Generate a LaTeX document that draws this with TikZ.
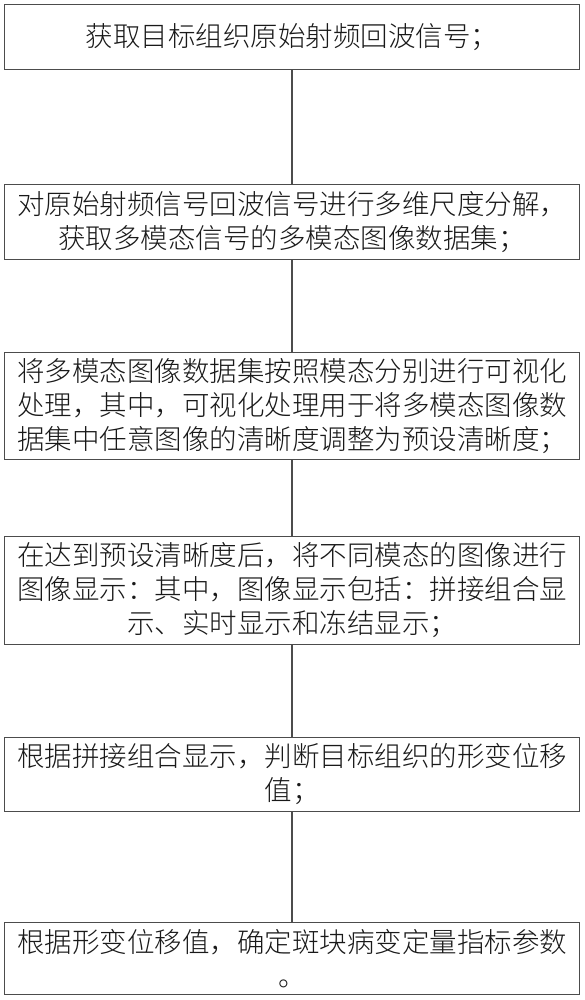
\documentclass[tikz,border=0pt]{standalone}
\usepackage{fontspec}
\newfontfamily\cjk{Noto Sans CJK SC Light}
\usetikzlibrary{positioning}

\begin{document}
\begin{tikzpicture}[x=1pt, y=-1pt, node distance=93pt,
    stepbox/.style={draw=black!70, line width=1.1pt, outer sep=0pt, minimum width=575pt, inner sep=2pt,
        align=center, text=black!90, font=\cjk\fontsize{27.5pt}{34pt}\selectfont},
    link/.style={draw=black!70, line width=1.1pt}]
    \useasboundingbox (0,0) rectangle (584,1000);

    \node[stepbox, minimum height=65pt] (s1) at (292,37) {获取目标组织原始射频回波信号；};
    \node[stepbox, minimum height=75pt] (s2) [below=115pt of s1] {对原始射频信号回波信号进行多维尺度分解，\\获取多模态信号的多模态图像数据集；};
    \node[stepbox, minimum height=107pt] (s3) [below=of s2] {将多模态图像数据集按照模态分别进行可视化\\处理，其中，可视化处理用于将多模态图像数\\据集中任意图像的清晰度调整为预设清晰度；};
    \node[stepbox, minimum height=108pt] (s4) [below=77pt of s3] {在达到预设清晰度后，将不同模态的图像进行\\图像显示：其中，图像显示包括：拼接组合显\\示、实时显示和冻结显示；};
    \node[stepbox, minimum height=74pt] (s5) [below=of s4] {根据拼接组合显示，判断目标组织的形变位移\\值；};
    \node[stepbox, minimum height=72pt] (s6) [below=111pt of s5] {根据形变位移值，确定斑块病变定量指标参数\\。};

    \path[link]
    (s1) -- (s2)
    (s2) -- (s3)
    (s3) -- (s4)
    (s4) -- (s5)
    (s5) -- (s6);
\end{tikzpicture}
\end{document}
